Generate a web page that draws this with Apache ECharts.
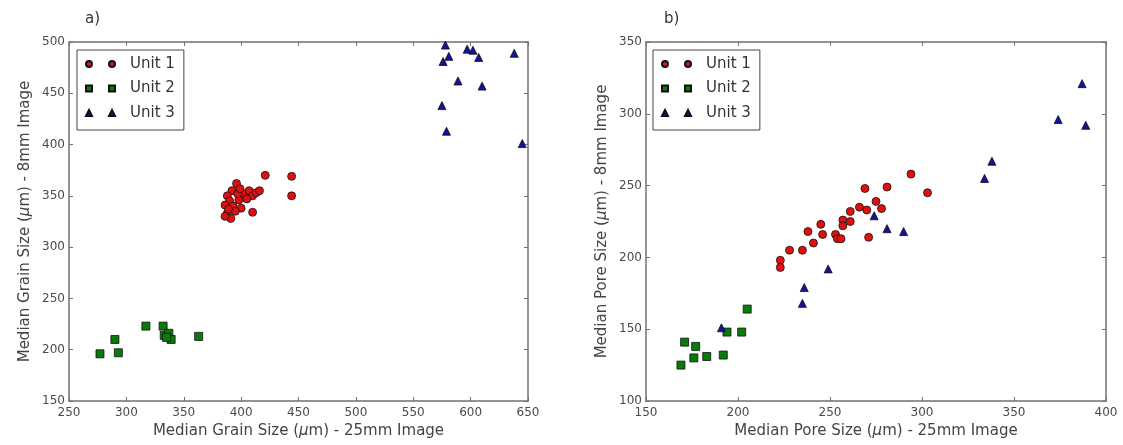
<!DOCTYPE html>
<html>
<head>
<meta charset="utf-8">
<script src="https://cdn.jsdelivr.net/npm/echarts@6/dist/echarts.min.js"></script>
<style>
  html, body { margin: 0; padding: 0; background: #fff; }
  #chart { width: 1123px; height: 445px; }
</style>
</head>
<body>
<div id="chart"></div>
<script>
// ---------- Data ----------
const unitNames = ['Unit 1', 'Unit 2', 'Unit 3'];

// Panel a) grain size: [25mm image, 8mm image]
const grainUnit1 = [[421,370],[444,369],[444,350],[410,334],[396,362],[392,355],[388,350],[390,345],[386,341],[393,340],[398,346],[400,338],[388,333],[391,328],[386,330],[395,335],[403,352],[407,355],[410,350],[413,353],[416,355],[405,347],[397,352],[389,337],[399,357]];
const grainUnit2 = [[277,196],[290,210],[293,197],[317,223],[332,223],[333,214],[337,216],[339,210],[335,212],[363,213]];
const grainUnit3 = [[578,497],[581,486],[576,481],[597,493],[602,492],[607,485],[638,489],[589,462],[610,457],[575,438],[579,413],[645,401]];

// Panel b) pore size: [25mm image, 8mm image]
const poreUnit1 = [[294,258],[303,245],[269,248],[281,249],[275,239],[278,234],[266,235],[270,233],[261,232],[257,226],[261,225],[257,222],[245,223],[238,218],[246,216],[253,216],[254,213],[256,213],[271,214],[241,210],[228,205],[235,205],[223,198],[223,193]];
const poreUnit2 = [[169,125],[171,141],[177,138],[176,130],[183,131],[192,132],[194,148],[202,148],[205,164]];
const poreUnit3 = [[191,151],[235,168],[236,179],[249,192],[274,229],[281,220],[290,218],[387,321],[374,296],[389,292],[338,267],[334,255]];

// Axis ranges / ticks
const grainX = { min: 250, max: 650, interval: 50 };
const grainY = { min: 150, max: 500, interval: 50 };
const poreX = { min: 150, max: 400, interval: 50 };
const poreY = { min: 100, max: 350, interval: 50 };

const grainXTitle = 'Median Grain Size ({i|μ}m) - 25mm Image';
const grainYTitle = 'Median Grain Size ({i|μ}m) - 8mm Image';
const poreXTitle = 'Median Pore Size ({i|μ}m) - 25mm Image';
const poreYTitle = 'Median Pore Size ({i|μ}m) - 8mm Image';
const panelLabels = ['a)', 'b)'];

// ---------- Styling ----------
const FONT = 'DejaVu Sans';
const frameColor = '#707070';
const labelColor = '#4a4a4a';
const titleColor = '#444';
const colors = ['#e01010', '#0a7a0a', '#12129a'];
const symbols = ['circle', 'rect', 'triangle'];
const symbolSizes = [8, 8, 8];
const legendIcons = [
  'path://M0,3a3,3 0 1,0 6,0a3,3 0 1,0 -6,0ZM23,3a3,3 0 1,0 6,0a3,3 0 1,0 -6,0Z',
  'path://M0,0h6v6h-6zM23,0h6v6h-6z',
  'path://M3,0L6,6L0,6ZM26,0L29,6L23,6Z'
];

const richName = {
  i: { fontStyle: 'italic', fontFamily: FONT, fontSize: 15, color: titleColor }
};

function mainX(idx, r, title) {
  return {
    type: 'value', gridIndex: idx, position: 'bottom',
    min: r.min, max: r.max, interval: r.interval,
    name: title, nameLocation: 'middle', nameGap: 22,
    nameTextStyle: { fontFamily: FONT, fontSize: 15, color: titleColor, rich: richName },
    axisLine: { show: true, onZero: false, lineStyle: { color: frameColor, width: 1.5 } },
    axisTick: { show: true, inside: true, length: 4, lineStyle: { color: frameColor } },
    axisLabel: { fontFamily: FONT, fontSize: 12, color: labelColor, margin: 6 },
    splitLine: { show: false }
  };
}
function sideX(idx, r) {
  return {
    type: 'value', gridIndex: idx, position: 'top',
    min: r.min, max: r.max, interval: r.interval,
    axisLine: { show: true, onZero: false, lineStyle: { color: frameColor, width: 1.5 } },
    axisTick: { show: true, inside: true, length: 4, lineStyle: { color: frameColor } },
    axisLabel: { show: false },
    splitLine: { show: false }
  };
}
function mainY(idx, r, title) {
  return {
    type: 'value', gridIndex: idx, position: 'left',
    min: r.min, max: r.max, interval: r.interval,
    name: title, nameLocation: 'middle', nameGap: 36, nameRotate: 90,
    nameTextStyle: { fontFamily: FONT, fontSize: 15, color: titleColor, rich: richName },
    axisLine: { show: true, onZero: false, lineStyle: { color: frameColor, width: 1.5 } },
    axisTick: { show: true, inside: true, length: 4, lineStyle: { color: frameColor } },
    axisLabel: { fontFamily: FONT, fontSize: 12, color: labelColor, margin: 4 },
    splitLine: { show: false }
  };
}
function sideY(idx, r) {
  return {
    type: 'value', gridIndex: idx, position: 'right',
    min: r.min, max: r.max, interval: r.interval,
    axisLine: { show: true, onZero: false, lineStyle: { color: frameColor, width: 1.5 } },
    axisTick: { show: true, inside: true, length: 4, lineStyle: { color: frameColor } },
    axisLabel: { show: false },
    splitLine: { show: false }
  };
}

function makeSeries(name, data, k, axisIdx) {
  return {
    type: 'scatter', name: name, data: data,
    xAxisIndex: axisIdx, yAxisIndex: axisIdx,
    symbol: symbols[k], symbolSize: symbolSizes[k],
    itemStyle: { color: colors[k], borderColor: '#111', borderWidth: 0.8, opacity: 1 },
    emphasis: { disabled: true }
  };
}

function makeLegend(left) {
  return {
    show: true, orient: 'vertical', left: left, top: 50,
    padding: [5, 9, 8, 8], itemGap: 6.5,
    itemWidth: 29, itemHeight: 6,
    borderColor: '#444', borderWidth: 1, backgroundColor: '#fff',
    selectedMode: false,
    textStyle: { fontFamily: FONT, fontSize: 15, color: '#333', lineHeight: 18, padding: [0, 0, 0, 10] },
    data: unitNames.map((n, k) => ({ name: n, icon: legendIcons[k] }))
  };
}

const chart = echarts.init(document.getElementById('chart'), null, { renderer: 'canvas' });
chart.setOption({
  backgroundColor: '#fff',
  animation: false,
  title: [
    { text: panelLabels[0], left: 80, top: 7, textStyle: { fontFamily: FONT, fontSize: 15, fontWeight: 'normal', color: '#333' } },
    { text: panelLabels[1], left: 659, top: 7, textStyle: { fontFamily: FONT, fontSize: 15, fontWeight: 'normal', color: '#333' } }
  ],
  grid: [
    { left: 69, top: 42, width: 459, height: 359 },
    { left: 646, top: 42, width: 460, height: 359 }
  ],
  xAxis: [
    mainX(0, grainX, grainXTitle),
    sideX(0, grainX),
    mainX(1, poreX, poreXTitle),
    sideX(1, poreX)
  ],
  yAxis: [
    mainY(0, grainY, grainYTitle),
    sideY(0, grainY),
    mainY(1, poreY, poreYTitle),
    sideY(1, poreY)
  ],
  legend: [makeLegend(77), makeLegend(653)],
  series: [
    makeSeries(unitNames[0], grainUnit1, 0, 0),
    makeSeries(unitNames[1], grainUnit2, 1, 0),
    makeSeries(unitNames[2], grainUnit3, 2, 0),
    makeSeries(unitNames[0], poreUnit1, 0, 2),
    makeSeries(unitNames[1], poreUnit2, 1, 2),
    makeSeries(unitNames[2], poreUnit3, 2, 2)
  ]
});
</script>
</body>
</html>
